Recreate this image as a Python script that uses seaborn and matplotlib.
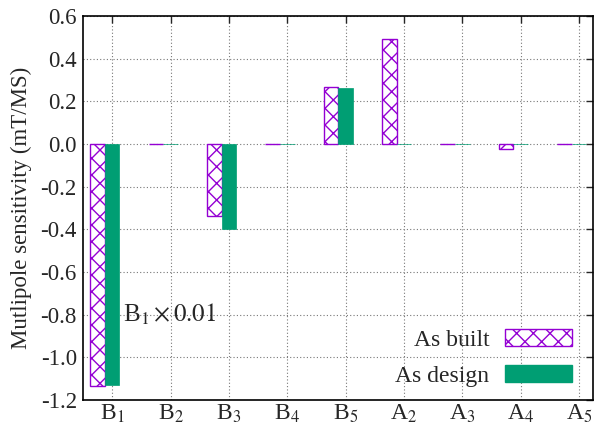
import numpy as np
import pandas as pd
import matplotlib
matplotlib.use("Agg")
import matplotlib.pyplot as plt
from matplotlib.patches import Patch
import seaborn as sns

multipoles = ["B$_1$", "B$_2$", "B$_3$", "B$_4$", "B$_5$", "A$_2$", "A$_3$", "A$_4$", "A$_5$"]
as_built = [-1.135, -0.002, -0.337, -0.002, 0.266, 0.49, -0.002, -0.025, -0.002]
as_design = [-1.128, -0.002, -0.398, -0.002, 0.264, -0.002, -0.002, -0.002, -0.002]
series = ["As built", "As design"]
yticks = [-1.2, -1.0, -0.8, -0.6, -0.4, -0.2, 0.0, 0.2, 0.4, 0.6]

purple = "#9400D3"
green = "#009E73"

sns.set_style("white")
plt.rcParams["font.family"] = ["Liberation Serif", "DejaVu Serif"]
plt.rcParams["mathtext.fontset"] = "stix"
plt.rcParams["hatch.linewidth"] = 1.0
plt.rcParams["axes.unicode_minus"] = False

df = pd.DataFrame({
    "mult": multipoles * 2,
    "val": as_built + as_design,
    "kind": [series[0]] * len(multipoles) + [series[1]] * len(multipoles),
})

fig = plt.figure(figsize=(5.94, 4.28), dpi=100)
ax = fig.add_axes([83 / 594, 28 / 428, 510 / 594, 384 / 428])

sns.barplot(data=df, x="mult", y="val", hue="kind", order=multipoles,
            hue_order=series, palette=[purple, green], width=0.5,
            dodge=True, legend=False, ax=ax, saturation=1)

for bar in ax.containers[0]:
    bar.set_facecolor("white")
    bar.set_edgecolor(purple)
    bar.set_hatch("xx")
    bar.set_linewidth(1.0)
for bar in ax.containers[1]:
    bar.set_facecolor(green)
    bar.set_edgecolor(green)
    bar.set_linewidth(0.5)

pos = np.arange(len(multipoles)) + 0.125
ax.set_xticks(pos)
ax.set_xticklabels(multipoles, fontsize=17)
ax.set_xlim(-0.375, 8.365)
ax.set_ylim(-1.2, 0.6)
ax.set_yticks(yticks)
ax.set_yticklabels([f"{v:.1f}" for v in yticks], fontsize=16.5)
ax.set_xlabel("")
ax.set_ylabel("Mutlipole sensitivity (mT/MS)", fontsize=16.5, labelpad=6)

ax.set_axisbelow(True)
ax.grid(True, linestyle=(0, (1, 2)), color="#777777", linewidth=0.8)
ax.tick_params(direction="in", top=True, right=True, length=5, width=1)
ax.tick_params(axis="y", pad=4.5)
ax.tick_params(axis="x", pad=2)
for s in ax.spines.values():
    s.set_linewidth(1.2)
    s.set_color("black")

ax.text(0.31, -0.8, "B$_1\\times0.01$", fontsize=18, va="center", ha="left")

handles = [Patch(facecolor="white", edgecolor=purple, hatch="xx", linewidth=1.0),
           Patch(facecolor=green, edgecolor=green)]
ax.legend(handles, series, loc="lower right", frameon=False, markerfirst=False,
          fontsize=17, handlelength=2.85, handleheight=0.72, labelspacing=0.6,
          bbox_to_anchor=(0.959, 0.035), borderpad=0, borderaxespad=0,
          handletextpad=0.65)

fig.savefig("out.png", dpi=100)
